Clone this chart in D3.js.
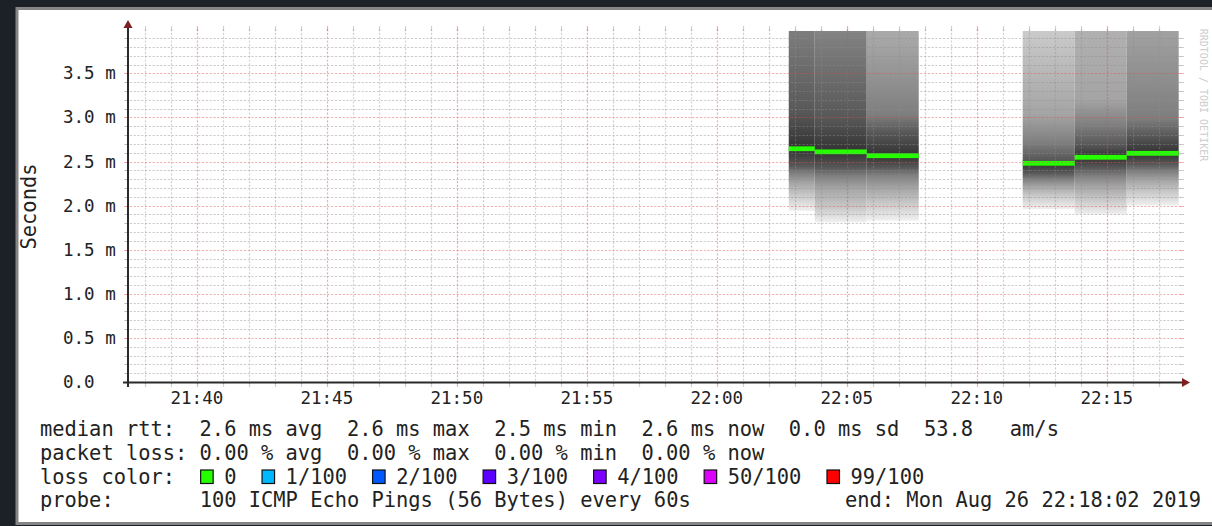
<!DOCTYPE html>
<html>
<head>
<meta charset="utf-8">
<script src="https://cdn.jsdelivr.net/npm/d3@7"></script>
<style>
  html, body { margin: 0; padding: 0; background: #1c2127; }
  svg { display: block; }
  text { font-family: "DejaVu Sans Mono", monospace; fill: #222; }
</style>
</head>
<body>
<svg id="chart" width="1212" height="526"></svg>
<script>
// ---- data ---------------------------------------------------------------
const timeStart = "21:37:21";
const timeEnd = "22:17:49";
const yMaxMs = 3.98;

const xTickLabels = ["21:40", "21:45", "21:50", "21:55", "22:00", "22:05", "22:10", "22:15"];
const yTickValues = [0, 0.5, 1.0, 1.5, 2.0, 2.5, 3.0, 3.5];
const yTickLabels = ["0.0", "0.5 m", "1.0 m", "1.5 m", "2.0 m", "2.5 m", "3.0 m", "3.5 m"];

// consolidated rows (start / end of each step)
const binStart = ["22:02:46", "22:03:46", "22:05:46", "22:11:46", "22:13:46", "22:15:46"];
const binEnd   = ["22:03:46", "22:05:46", "22:07:46", "22:13:46", "22:15:46", "22:17:46"];
// median round trip time per step, ms
const medianMs = [2.645, 2.61, 2.566, 2.48, 2.548, 2.593];
// packet loss per step (out of 100 pings)
const lossPings = [0, 0, 0, 0, 0, 0];
// ping rtt (ms) at the rank fractions below the median ...
const smokeLowRanks = [0, 0.1, 0.2, 0.3, 0.4];
const smokeLowMs = [
  [1.94, 2.11, 2.26, 2.37, 2.45],
  [1.81, 1.97, 2.20, 2.34, 2.43],
  [1.83, 2.02, 2.20, 2.35, 2.43],
  [1.96, 2.11, 2.22, 2.30, 2.37],
  [1.90, 2.06, 2.22, 2.34, 2.43],
  [2.00, 2.15, 2.29, 2.39, 2.47]
];
// ... and above the median
const smokeHighRanks = [0.6, 0.7, 0.8, 0.9, 1];
const smokeHighMs = [
  [3.06, 4.01, 4.60, 5.40, 7.20],
  [2.99, 3.88, 4.50, 5.20, 6.80],
  [2.83, 3.03, 3.82, 4.90, 6.50],
  [2.52, 2.71, 3.03, 3.97, 5.60],
  [2.69, 2.91, 3.20, 5.60, 7.50],
  [2.79, 2.99, 4.05, 5.00, 6.80]
];

const rttStats = ["0.0 ms sd", "53.8"];
const lossLevels = ["0", "1/100", "2/100", "3/100", "4/100", "50/100", "99/100"];
const lossColors = ["#26ff00", "#00b8ff", "#0059ff", "#5e00ff", "#7e00ff", "#dd00ff", "#ff0000"];
const probeText = "100 ICMP Echo Pings (56 Bytes) every 60s";
const endText = "end: Mon Aug 26 22:18:02 2019";
const watermark = "RRDTOOL / TOBI OETIKER";

// ---- layout -------------------------------------------------------------
const plot = { left: 128, right: 1180, top: 31, bottom: 382 };
const legendFont = 20.4, axisFont = 17.5;
const legendX = 40, charW = legendFont * 0.602;

const parseT = d3.timeParse("%H:%M:%S");
const x = d3.scaleTime()
  .domain([parseT(timeStart), parseT(timeEnd)])
  .range([plot.left, plot.right]);
const y = d3.scaleLinear().domain([0, yMaxMs]).range([plot.bottom, plot.top]);

const svg = d3.select("#chart");
const defs = svg.append("defs");

// white graph panel with a grey frame
svg.append("rect")
  .attr("x", 17).attr("y", 8.5).attr("width", 1215).attr("height", 515)
  .attr("fill", "#ffffff").attr("stroke", "#858585").attr("stroke-width", 3);

defs.append("clipPath").attr("id", "plotClip")
  .append("rect")
  .attr("x", plot.left).attr("y", plot.top)
  .attr("width", plot.right - plot.left).attr("height", plot.bottom - plot.top);

// ---- smoke: grey shade by ping rank, darkest at the median --------------
const shade = q => { const g = Math.round(50 + 190 * Math.abs(1 - 2 * q)); return `rgb(${g},${g},${g})`; };

const bins = binStart.map((s, i) => {
  const pts = smokeLowRanks.map((q, k) => ({ q, v: smokeLowMs[i][k] }))
    .concat([{ q: 0.5, v: medianMs[i] }])
    .concat(smokeHighRanks.map((q, k) => ({ q, v: smokeHighMs[i][k] })));
  return { t0: parseT(s), t1: parseT(binEnd[i]), median: medianMs[i], loss: lossPings[i], pts };
});

bins.forEach((b, i) => {
  const yTop = y(d3.max(b.pts, p => p.v));
  const yBot = y(d3.min(b.pts, p => p.v));
  const grad = defs.append("linearGradient")
    .attr("id", "smoke" + i)
    .attr("gradientUnits", "userSpaceOnUse")
    .attr("x1", 0).attr("x2", 0).attr("y1", yTop).attr("y2", yBot);
  b.pts.slice().sort((a, c) => c.v - a.v).forEach(p => {
    grad.append("stop")
      .attr("offset", (y(p.v) - yTop) / (yBot - yTop))
      .attr("stop-color", shade(p.q));
  });
  b.yTop = yTop; b.yBot = yBot;
});

const dataG = svg.append("g").attr("clip-path", "url(#plotClip)");
dataG.selectAll("rect.smoke").data(bins).join("rect")
  .attr("class", "smoke")
  .attr("x", d => x(d.t0))
  .attr("width", d => x(d.t1) - x(d.t0))
  .attr("y", d => d.yTop)
  .attr("height", d => d.yBot - d.yTop)
  .attr("fill", (d, i) => `url(#smoke${i})`);

// median line, coloured by loss
const lossColor = l => {
  const idx = [0, 1, 2, 3, 4, 50, 99].findIndex((lv, k, arr) => l <= lv || k === arr.length - 1);
  return lossColors[idx];
};
dataG.selectAll("rect.median").data(bins).join("rect")
  .attr("class", "median")
  .attr("x", d => x(d.t0))
  .attr("width", d => x(d.t1) - x(d.t0))
  .attr("y", d => y(d.median) - 2.4)
  .attr("height", 4.8)
  .attr("fill", d => lossColor(d.loss));

// ---- grid (drawn over the data) -----------------------------------------
const gridG = svg.append("g");
const minorColor = "#8f8f8f", majorColor = "#de4f4f";

const yMinor = d3.range(1, Math.floor(yMaxMs * 10) + 1).filter(i => i % 5 !== 0).map(i => i / 10);
const yMajor = yTickValues.filter(v => v > 0);

function hLines(vals, color, op) {
  gridG.append("g").selectAll("line").data(vals).join("line")
    .attr("x1", plot.left - 2).attr("x2", plot.right + 2)
    .attr("y1", d => Math.round(y(d)) + 0.5).attr("y2", d => Math.round(y(d)) + 0.5)
    .attr("stroke", color).attr("stroke-opacity", op)
    .attr("stroke-width", 1.2).attr("stroke-dasharray", "2.2,1.6");
  gridG.append("g").selectAll("path").data(vals).join("path")
    .attr("d", d => { const yy = Math.round(y(d)) + 0.5;
      return `M${plot.left - 4},${yy}H${plot.left}M${plot.right},${yy}H${plot.right + 4}`; })
    .attr("stroke", color).attr("stroke-opacity", op).attr("stroke-width", 1.2);
}
function vLines(vals, color, op) {
  gridG.append("g").selectAll("line").data(vals).join("line")
    .attr("x1", d => Math.round(x(d)) + 0.5).attr("x2", d => Math.round(x(d)) + 0.5)
    .attr("y1", plot.top - 2).attr("y2", plot.bottom + 2)
    .attr("stroke", color).attr("stroke-opacity", op)
    .attr("stroke-width", 1.2).attr("stroke-dasharray", "2.2,1.6");
  gridG.append("g").selectAll("path").data(vals).join("path")
    .attr("d", d => { const xx = Math.round(x(d)) + 0.5;
      return `M${xx},${plot.top - 5}V${plot.top}M${xx},${plot.bottom}V${plot.bottom + 5}`; })
    .attr("stroke", color).attr("stroke-opacity", op).attr("stroke-width", 1.2);
}

const xMajorTimes = xTickLabels.map(l => parseT(l + ":00"));
const xMinorTimes = x.ticks(d3.timeMinute.every(1))
  .filter(t => !xMajorTimes.some(m => +m === +t));

hLines(yMinor, minorColor, 0.45);
vLines(xMinorTimes, minorColor, 0.4);
hLines(yMajor, majorColor, 0.45);
vLines(xMajorTimes, majorColor, 0.45);

// ---- axes with arrows ---------------------------------------------------
const axisColor = "#2a2a2a", arrowColor = "#801f1f";
svg.append("line")
  .attr("x1", plot.left - 5).attr("x2", plot.right + 3)
  .attr("y1", plot.bottom + 0.5).attr("y2", plot.bottom + 0.5)
  .attr("stroke", axisColor).attr("stroke-width", 2);
svg.append("line")
  .attr("x1", plot.left).attr("x2", plot.left)
  .attr("y1", plot.bottom + 5).attr("y2", plot.top - 3)
  .attr("stroke", axisColor).attr("stroke-width", 2);
svg.append("path")
  .attr("d", `M${plot.right + 2},${plot.bottom - 4}L${plot.right + 10},${plot.bottom + 0.5}L${plot.right + 2},${plot.bottom + 5}Z`)
  .attr("fill", arrowColor);
svg.append("path")
  .attr("d", `M${plot.left - 4.5},${plot.top - 3}L${plot.left},${plot.top - 11}L${plot.left + 4.5},${plot.top - 3}Z`)
  .attr("fill", arrowColor);

// tick labels
svg.append("g").selectAll("text").data(yTickValues).join("text")
  .attr("x", 63).attr("y", d => y(d) + 6)
  .attr("font-size", axisFont)
  .text((d, i) => yTickLabels[i]);

svg.append("g").selectAll("text").data(xTickLabels).join("text")
  .attr("x", d => x(parseT(d + ":00")))
  .attr("y", 404)
  .attr("text-anchor", "middle")
  .attr("font-size", axisFont)
  .text(d => d);

// vertical unit title
svg.append("text")
  .attr("transform", `translate(36,${(plot.top + plot.bottom) / 2}) rotate(-90)`)
  .attr("text-anchor", "middle")
  .attr("font-size", legendFont)
  .text("Seconds");

// faint vertical watermark along the right edge
svg.append("text")
  .attr("transform", `translate(1200,95) rotate(90)`)
  .attr("text-anchor", "middle")
  .attr("font-size", 10)
  .style("fill", "#cdcdcd")
  .text(watermark);

// ---- legend -------------------------------------------------------------
const f1 = d3.format(".1f"), f2 = d3.format(".2f");
const rowY = [436, 460, 483.5, 507];
const col = c => legendX + c * charW;
const addRow = (txt, yy, c = 0) => svg.append("text")
  .attr("x", col(c)).attr("y", yy)
  .attr("font-size", legendFont)
  .style("white-space", "pre")
  .text(txt);

const rttLine = "median rtt:  " + [
  f1(d3.mean(medianMs)) + " ms avg",
  f1(d3.max(medianMs)) + " ms max",
  f1(d3.min(medianMs)) + " ms min",
  f1(medianMs[medianMs.length - 1]) + " ms now",
  rttStats[0],
  rttStats[1] + " "
].join("  ") + "  am/s";
addRow(rttLine, rowY[0]);

const lossLine = "packet loss: " + [
  f2(d3.mean(lossPings)) + " % avg",
  f2(d3.max(lossPings)) + " % max",
  f2(d3.min(lossPings)) + " % min",
  f2(lossPings[lossPings.length - 1]) + " % now"
].join("  ");
addRow(lossLine, rowY[1]);

addRow("loss color:", rowY[2]);
let c = 13;
lossLevels.forEach((lv, i) => {
  svg.append("rect")
    .attr("x", col(c) + 1).attr("y", rowY[2] - 13.5)
    .attr("width", 12.5).attr("height", 13.5)
    .attr("fill", lossColors[i]).attr("stroke", "#111").attr("stroke-width", 1.2);
  addRow(lv, rowY[2], c + 2);
  c += 2 + lv.length + 2;
});

addRow("probe:", rowY[3]);
addRow(probeText, rowY[3], 13);
svg.append("text")
  .attr("x", 1201).attr("y", rowY[3])
  .attr("text-anchor", "end")
  .attr("font-size", legendFont)
  .text(endText);
</script>
</body>
</html>
